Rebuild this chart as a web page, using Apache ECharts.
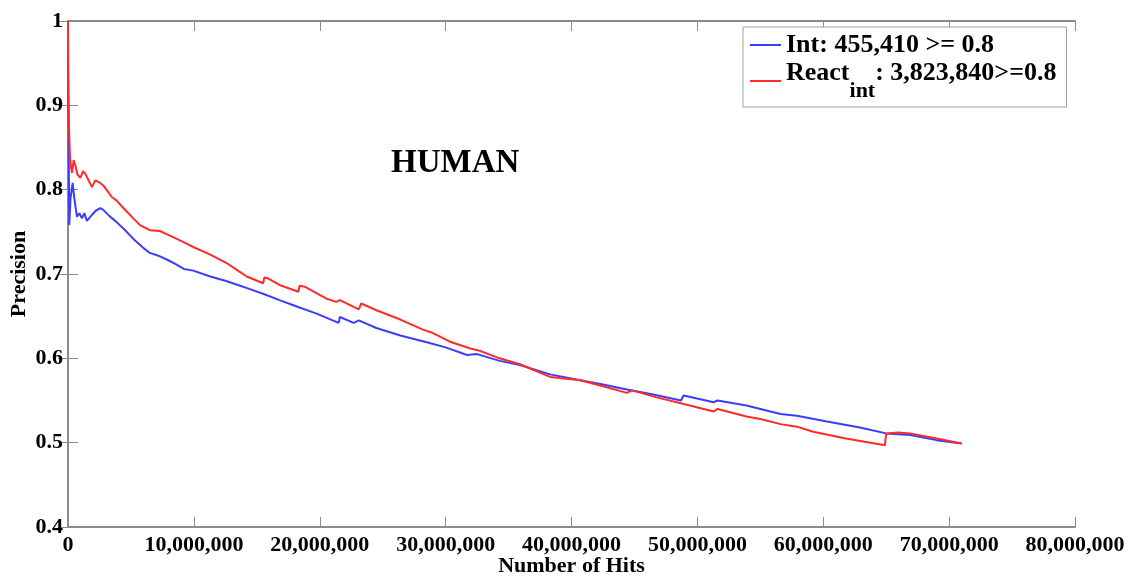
<!DOCTYPE html>
<html>
<head>
<meta charset="utf-8">
<title>HUMAN precision vs hits</title>
<script src="https://cdn.jsdelivr.net/npm/echarts@6/dist/echarts.min.js"></script>
<style>
  html, body { margin: 0; padding: 0; background: #fff; }
  #chart { width: 1131px; height: 579px; }
</style>
</head>
<body>
<div id="chart"></div>
<script>
// Int curve: hits (millions) and precision
var intHitsM = [0, 0.05, 0.1, 0.2, 0.37, 0.5, 0.71, 0.9, 1.11, 1.3, 1.5, 1.9, 2.2, 2.57, 2.8, 3.34, 3.76, 4.66, 5.3, 5.98,
  6.5, 7.3, 8.0, 8.63, 9.2, 9.95, 11.3, 12.5, 13.5, 14.46, 15.6, 16.8, 17.9, 19.75, 21.5, 21.6, 22.7, 23.1, 24.5, 26.4,
  26.5, 28.5, 30.0, 31.7, 32.5, 34.3, 35.9, 38.3, 40.7, 42.5, 44.4, 46.5, 48.7, 48.9, 51.3, 51.6, 53.9, 56.6, 57.9, 60.3,
  62.9, 65.0, 66.9, 69.0, 71.0];
var intPrec = [0.955, 0.86, 0.758, 0.79, 0.808, 0.79, 0.768, 0.772, 0.766, 0.772, 0.763, 0.77, 0.775, 0.778, 0.776, 0.768, 0.763, 0.75, 0.74, 0.731,
  0.725, 0.721, 0.716, 0.711, 0.706, 0.704, 0.697, 0.692, 0.687, 0.682, 0.676, 0.669, 0.663, 0.653, 0.642, 0.649, 0.642, 0.645, 0.636, 0.627,
  0.629, 0.619, 0.613, 0.604, 0.605, 0.597, 0.592, 0.581, 0.574, 0.569, 0.563, 0.557, 0.55, 0.556, 0.548, 0.55, 0.544, 0.534, 0.532, 0.525,
  0.518, 0.511, 0.509, 0.503, 0.499];

// React_int curve
var reactHitsM = [0, 0.02, 0.08, 0.16, 0.25, 0.32, 0.45, 0.58, 0.75, 0.98, 1.2, 1.37, 1.6, 1.9, 2.17, 2.45, 2.8, 3.2, 3.5, 3.87,
  4.29, 4.8, 5.19, 5.72, 6.5, 7.3, 8.0, 8.6, 9.3, 9.95, 11.3, 12.6, 13.5, 14.2, 15.5, 15.6, 15.85, 16.8, 18.3, 18.4,
  18.8, 20.5, 21.3, 21.6, 23.1, 23.3, 24.5, 26.4, 28.2, 29.0, 30.3, 31.9, 32.7, 34.3, 35.9, 38.3, 40.7, 42.5, 44.4, 44.8,
  46.7, 48.6, 51.3, 51.6, 53.9, 55.0, 56.6, 57.9, 59.2, 59.3, 61.8, 61.9, 64.9, 65.0, 65.95, 66.0, 66.9, 69.0, 71.0];
var reactPrec = [1.0, 0.93, 0.871, 0.838, 0.826, 0.82, 0.835, 0.829, 0.818, 0.814, 0.822, 0.819, 0.812, 0.803, 0.811, 0.809, 0.805, 0.797, 0.791, 0.787,
  0.78, 0.772, 0.766, 0.758, 0.752, 0.751, 0.746, 0.742, 0.737, 0.732, 0.723, 0.713, 0.704, 0.697, 0.689, 0.696, 0.695, 0.687, 0.679, 0.686,
  0.685, 0.671, 0.667, 0.669, 0.658, 0.665, 0.657, 0.646, 0.634, 0.630, 0.620, 0.612, 0.609, 0.600, 0.593, 0.578, 0.574, 0.567, 0.559, 0.562,
  0.554, 0.547, 0.537, 0.54, 0.531, 0.528, 0.522, 0.519, 0.513, 0.514, 0.505, 0.507, 0.497, 0.511, 0.512, 0.514, 0.511, 0.505, 0.499];

var seriesNames = ['Int', 'React'];
var legendTexts = ['Int: 455,410 >= 0.8', 'React|int|: 3,823,840>=0.8'];

function pairs(xs, ys) {
  var out = [];
  for (var i = 0; i < xs.length; i++) out.push([xs[i] * 1e6, ys[i]]);
  return out;
}

var font = "'Liberation Serif', 'DejaVu Serif', serif";
var axisGray = '#8c8c8c';

var chart = echarts.init(document.getElementById('chart'));

var frameAxis = {
  axisLine: { show: true, lineStyle: { color: axisGray, width: 2 } },
  axisTick: { show: true, inside: true, length: 10, lineStyle: { color: axisGray, width: 1 } },
  splitLine: { show: false }
};

var option = {
  animation: false,
  backgroundColor: '#fff',
  title: {
    text: 'HUMAN',
    left: 386,
    top: 142,
    textStyle: { fontFamily: font, fontSize: 33, fontWeight: 'bold', color: '#000' }
  },
  legend: {
    orient: 'vertical',
    left: 743,
    top: 27,
    padding: [5, 10, 5, 7],
    itemGap: 2,
    itemWidth: 31,
    itemHeight: 2,
    icon: 'rect',
    borderColor: '#a0a0a0',
    borderWidth: 1,
    backgroundColor: '#fff',
    data: seriesNames,
    formatter: function (name) {
      if (name === 'Int') return '{a|' + legendTexts[0] + '}';
      var p = legendTexts[1].split('|');
      return '{a|' + p[0] + '}{sub|' + p[1] + '}{a|' + p[2] + '}';
    },
    textStyle: {
      fontFamily: font,
      color: '#000',
      rich: {
        a: { fontFamily: font, fontSize: 26, fontWeight: 'bold', color: '#000', lineHeight: 26, verticalAlign: 'top' },
        sub: { fontFamily: font, fontSize: 22, fontWeight: 'bold', color: '#000', lineHeight: 42, verticalAlign: 'bottom' }
      }
    }
  },
  grid: { left: 68, right: 56, top: 21, bottom: 52, containLabel: false, outerBoundsMode: 'none' },
  xAxis: [
    Object.assign({
      type: 'value', min: 0, max: 80000000, interval: 10000000,
      name: 'Number of Hits', nameLocation: 'middle', nameGap: 28, nameMoveOverlap: false,
      nameTextStyle: { fontFamily: font, fontSize: 22, fontWeight: 'bold', color: '#000' },
      axisLabel: {
        fontFamily: font, fontSize: 22, fontWeight: 'bold', color: '#000', margin: 7,
        formatter: function (v) { return v.toLocaleString('en-US'); }
      }
    }, frameAxis),
    Object.assign({
      type: 'value', min: 0, max: 80000000, interval: 10000000, position: 'top',
      axisLabel: { show: false }
    }, frameAxis)
  ],
  yAxis: [
    Object.assign({
      type: 'value', min: 0.4, max: 1, interval: 0.1,
      name: 'Precision', nameLocation: 'middle', nameGap: 38, nameMoveOverlap: false,
      nameTextStyle: { fontFamily: font, fontSize: 22, fontWeight: 'bold', color: '#000' },
      axisLabel: {
        fontFamily: font, fontSize: 22, fontWeight: 'bold', color: '#000', margin: 5,
        formatter: function (v) { return Math.abs(v - 1) < 1e-9 ? '1' : v.toFixed(1); }
      }
    }, frameAxis),
    Object.assign({
      type: 'value', min: 0.4, max: 1, interval: 0.1, position: 'right',
      axisLabel: { show: false }
    }, frameAxis)
  ],
  series: [
    {
      name: seriesNames[0], type: 'line', showSymbol: false, symbol: 'none',
      lineStyle: { color: '#3c3cff', width: 2 }, itemStyle: { color: '#3c3cff' },
      data: pairs(intHitsM, intPrec), z: 3
    },
    {
      name: seriesNames[1], type: 'line', showSymbol: false, symbol: 'none',
      lineStyle: { color: '#ff2a2a', width: 2 }, itemStyle: { color: '#ff2a2a' },
      data: pairs(reactHitsM, reactPrec), z: 4
    }
  ]
};

chart.setOption(option);
</script>
</body>
</html>
